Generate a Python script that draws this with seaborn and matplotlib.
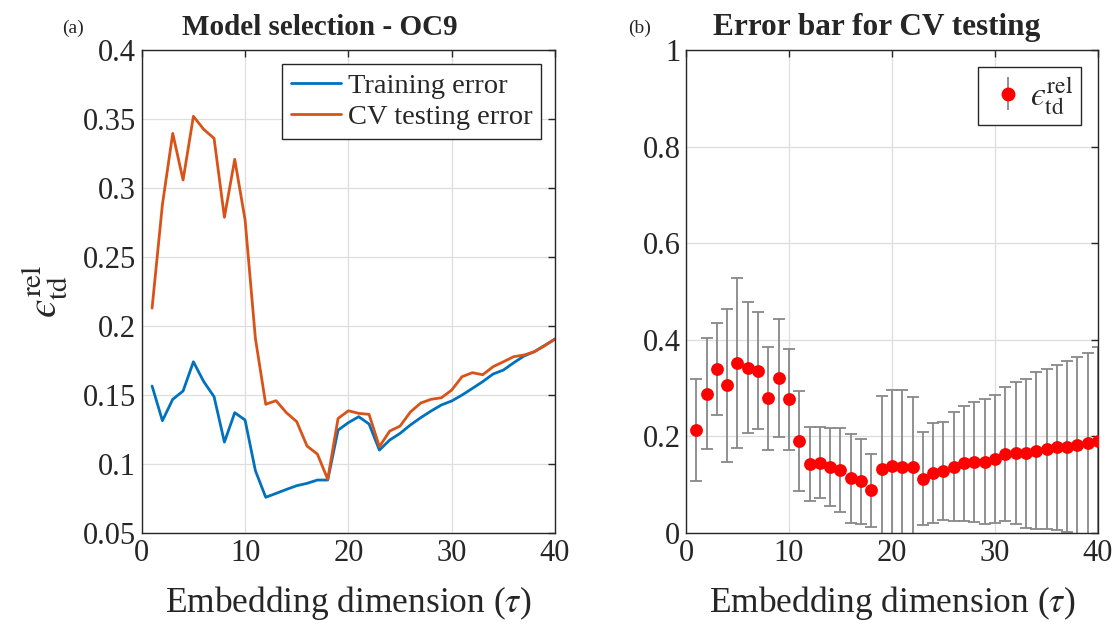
import numpy as np
import pandas as pd
import matplotlib
matplotlib.use("Agg")
import matplotlib.pyplot as plt
import seaborn as sns

# Embedding dimension tau = 1..40
tau = list(range(1, 41))

# Relative training error from model selection
train_err = [0.1565, 0.1314, 0.1469, 0.1529, 0.1741, 0.1597, 0.1488, 0.1159, 0.1372, 0.1319,
             0.0952, 0.0759, 0.0787, 0.0816, 0.0843, 0.0860, 0.0884, 0.0884, 0.1246, 0.1300,
             0.1343, 0.1290, 0.1101, 0.1174, 0.1222, 0.1283, 0.1336, 0.1384, 0.1428, 0.1457,
             0.1500, 0.1548, 0.1597, 0.1652, 0.1681, 0.1734, 0.1783, 0.1814, 0.1860, 0.1906]

# Mean cross-validation testing error
cv_err = [0.2130, 0.2880, 0.3396, 0.3058, 0.3520, 0.3425, 0.3360, 0.2788, 0.3208, 0.2770,
          0.1910, 0.1433, 0.1459, 0.1372, 0.1307, 0.1130, 0.1072, 0.0889, 0.1330, 0.1386,
          0.1367, 0.1360, 0.1126, 0.1239, 0.1275, 0.1377, 0.1442, 0.1469, 0.1480, 0.1536,
          0.1633, 0.1662, 0.1647, 0.1705, 0.1741, 0.1778, 0.1790, 0.1814, 0.1857, 0.1906]

# Standard deviation of the CV testing error across folds
cv_std = [0.105, 0.115, 0.095, 0.158, 0.175, 0.136, 0.121, 0.107, 0.122, 0.105,
          0.103, 0.076, 0.074, 0.081, 0.0875, 0.092, 0.0875, 0.0755, 0.150, 0.158,
          0.160, 0.146, 0.096, 0.103, 0.1015, 0.1135, 0.1185, 0.124, 0.130, 0.132,
          0.139, 0.147, 0.155, 0.1625, 0.166, 0.171, 0.177, 0.183, 0.188, 0.194]

left_yticks = [0.05, 0.1, 0.15, 0.2, 0.25, 0.3, 0.35, 0.4]
left_yticklabels = ["0.05", "0.1", "0.15", "0.2", "0.25", "0.3", "0.35", "0.4"]
right_yticks = [0, 0.2, 0.4, 0.6, 0.8, 1.0]
right_yticklabels = ["0", "0.2", "0.4", "0.6", "0.8", "1"]
xticks = [0, 10, 20, 30, 40]

sns.set_style("white")
plt.rcParams["font.family"] = ["Liberation Serif", "DejaVu Serif"]
plt.rcParams["mathtext.fontset"] = "stix"

AX_COLOR = "#262626"
GRID_COLOR = "#dedede"
BLUE = "#0072BD"
ORANGE = "#D95319"
EPS_LABEL = "$\u03f5^{\\mathrm{rel}}_{\\mathrm{td}}$"

df = pd.DataFrame({
    "tau": tau * 2,
    "err": train_err + cv_err,
    "kind": ["Training error"] * 40 + ["CV testing error"] * 40,
})

fig = plt.figure(figsize=(11.17, 6.24), dpi=100)
ax1 = fig.add_axes([0.1269, 0.1458, 0.3700, 0.7740])
ax2 = fig.add_axes([0.6141, 0.1458, 0.3689, 0.7740])


def style_axes(ax):
    for s in ax.spines.values():
        s.set_color(AX_COLOR)
        s.set_linewidth(1.0)
        s.set_visible(True)
    ax.tick_params(axis="both", which="both", direction="in", top=True, right=True,
                   length=5, width=1.0, color=AX_COLOR, labelsize=22, labelcolor="#262626",
                   pad=4)
    ax.grid(True, color=GRID_COLOR, linewidth=0.9)
    ax.set_axisbelow(True)


# (a) training vs CV testing error
sns.lineplot(data=df, x="tau", y="err", hue="kind", palette=[BLUE, ORANGE],
             linewidth=2.0, ax=ax1)
ax1.set_xlim(0, 40)
ax1.set_ylim(0.05, 0.4)
ax1.set_xticks(xticks)
ax1.set_yticks(left_yticks)
ax1.set_yticklabels(left_yticklabels)
style_axes(ax1)
ax1.set_xlabel(r"Embedding dimension ($\tau$)", fontsize=25.5, color="#262626", labelpad=12)
ax1.set_ylabel(EPS_LABEL, fontsize=30, color="#262626", labelpad=9)
ax1.set_title("Model selection - OC9", fontsize=21, fontweight="bold", pad=11, x=0.43)
leg1 = ax1.legend(loc="upper right", fontsize=20.5, frameon=True, fancybox=False,
                  framealpha=1, edgecolor=AX_COLOR, borderaxespad=0.5,
                  handlelength=1.75, borderpad=0.3, labelspacing=0.2, handletextpad=0.25)
leg1.get_frame().set_linewidth(1.0)

# (b) CV testing error with standard deviation bars
ax2.errorbar(tau, cv_err, yerr=cv_std, fmt="none", ecolor="#888888", elinewidth=1.3,
             capsize=4, capthick=1.3, zorder=2)
sns.scatterplot(x=tau, y=cv_err, color="red", s=85, edgecolor="red", linewidth=0,
                ax=ax2, zorder=3)
ax2.set_xlim(0, 40)
ax2.set_ylim(0, 1)
ax2.set_xticks(xticks)
ax2.set_yticks(right_yticks)
ax2.set_yticklabels(right_yticklabels)
style_axes(ax2)
ax2.set_xlabel(r"Embedding dimension ($\tau$)", fontsize=25.5, color="#262626", labelpad=12)
ax2.set_ylabel("")
ax2.set_title("Error bar for CV testing", fontsize=22.5, fontweight="bold", pad=11, x=0.462)

handle = ax2.errorbar([], [], yerr=[], fmt="o", color="red", markersize=9,
                      ecolor="#888888", elinewidth=1.3, capsize=4, capthick=1.3)
leg2 = ax2.legend([handle], [EPS_LABEL], loc="upper right",
                  fontsize=24, frameon=True, fancybox=False, framealpha=1,
                  edgecolor=AX_COLOR, borderaxespad=0.5, handlelength=1.3,
                  borderpad=0.25, handletextpad=0.0)
leg2.get_frame().set_linewidth(1.0)

# panel letters
fig.text(62 / 1117, 1 - 28 / 624, "(a)", fontsize=14, va="center", ha="left")
fig.text(628 / 1117, 1 - 28 / 624, "(b)", fontsize=14, va="center", ha="left")

fig.savefig("out.png", dpi=100)
